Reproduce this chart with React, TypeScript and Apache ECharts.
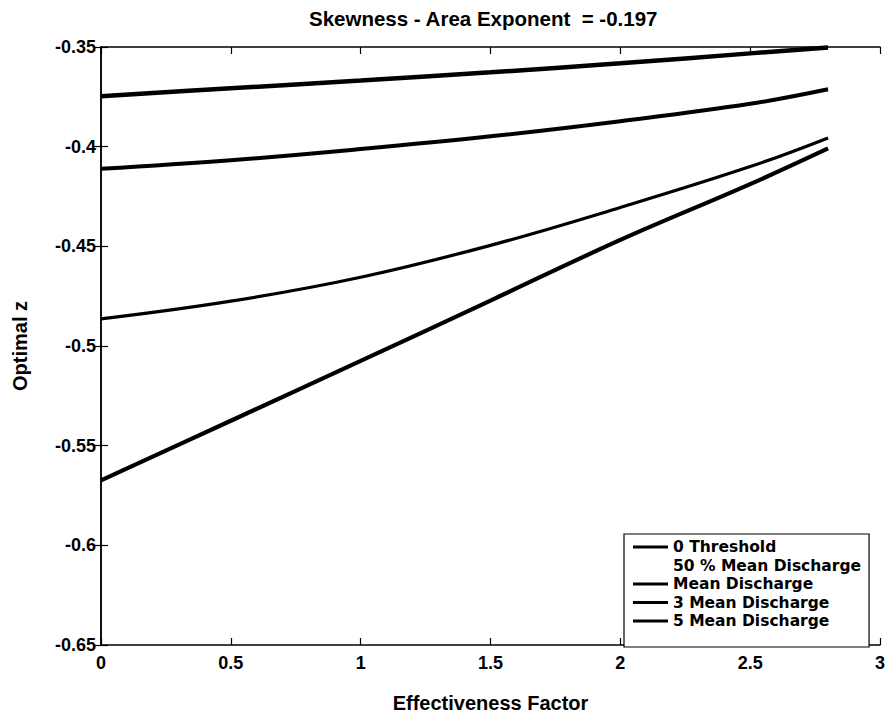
import React, { useEffect, useRef } from "react";
import * as echarts from "echarts";

const titleText = "Skewness - Area Exponent  = -0.197";
const xAxisName = "Effectiveness Factor";
const yAxisName = "Optimal z";

const xValues = [0, 0.5, 1, 1.5, 2, 2.5, 2.8];

const seriesNames = [
  "0 Threshold",
  "50 % Mean Discharge",
  "Mean Discharge",
  "3 Mean Discharge",
  "5 Mean Discharge",
];

const zeroThreshold = [-0.3747, -0.3707, -0.3668, -0.3627, -0.3582, -0.3532, -0.3502];
const halfMeanDischarge: number[] = [];
const meanDischarge = [-0.4111, -0.4068, -0.4012, -0.3948, -0.3872, -0.3785, -0.3712];
const threeMeanDischarge = [-0.4864, -0.4775, -0.4655, -0.4495, -0.4305, -0.41, -0.3956];
const fiveMeanDischarge = [-0.5674, -0.5375, -0.5075, -0.4772, -0.4468, -0.4188, -0.4009];

const FONT = "'Liberation Sans', Arial, Helvetica, sans-serif";
const LEGEND_FONT = "'DejaVu Sans', 'Liberation Sans', Arial, sans-serif";

function pairs(ys: number[]) {
  return ys.map((y, i) => [xValues[i], y]);
}

export default function App() {
  const ref = useRef<HTMLDivElement>(null);
  useEffect(() => {
    document.body.style.margin = "0";
    const chart = echarts.init(ref.current!, null, { renderer: "svg" });
    const axisLine = { show: true, lineStyle: { color: "#000", width: 1.5 } };
    const tick = { show: true, inside: true, length: 7, lineStyle: { color: "#000", width: 1.2 } };
    const lbl = { fontFamily: FONT, fontWeight: "bold" as const, fontSize: 18, color: "#000" };
    const lineSeries = (name: string, data: number[], width: number, color = "#000") => ({
      name,
      type: "line",
      data: pairs(data),
      smooth: 0.4,
      symbol: "none",
      lineStyle: { color, width },
      itemStyle: { color },
    });
    chart.setOption({
      animation: false,
      backgroundColor: "#fff",
      title: {
        text: titleText,
        left: 309,
        top: 8,
        padding: 0,
        textStyle: { fontFamily: FONT, fontWeight: "bold", fontSize: 20.5, color: "#000" },
      },
      grid: { left: 101, right: 3, top: 47, bottom: 64, containLabel: false },
      xAxis: [
        {
          type: "value",
          min: 0,
          max: 3,
          interval: 0.5,
          position: "bottom",
          name: xAxisName,
          nameLocation: "middle",
          nameGap: 48,
          nameTextStyle: { fontFamily: FONT, fontWeight: "bold", fontSize: 20, color: "#000" },
          axisLine,
          axisTick: tick,
          axisLabel: { ...lbl, margin: 9 },
          splitLine: { show: false },
        },
        {
          type: "value",
          min: 0,
          max: 3,
          interval: 0.5,
          position: "top",
          axisLine,
          axisTick: tick,
          axisLabel: { show: false },
          splitLine: { show: false },
        },
      ],
      yAxis: [
        {
          type: "value",
          min: -0.65,
          max: -0.35,
          interval: 0.05,
          position: "left",
          name: yAxisName,
          nameLocation: "middle",
          nameGap: 71,
          nameTextStyle: { fontFamily: FONT, fontWeight: "bold", fontSize: 20, color: "#000" },
          axisLine,
          axisTick: tick,
          axisLabel: {
            ...lbl,
            margin: 5,
            formatter: (v: number) => String(Number(v.toFixed(2))),
          },
          splitLine: { show: false },
        },
        {
          type: "value",
          min: -0.65,
          max: -0.35,
          interval: 0.05,
          position: "right",
          axisLine,
          axisTick: tick,
          axisLabel: { show: false },
          splitLine: { show: false },
        },
      ],
      legend: {
        orient: "vertical",
        left: 624,
        top: 534,
        padding: [5, 8, 18, 9],
        itemGap: 2.5,
        itemWidth: 35,
        itemHeight: 3,
        icon: "rect",
        symbolKeepAspect: false,
        backgroundColor: "#fff",
        borderColor: "#000",
        borderWidth: 1.2,
        borderRadius: 0,
        textStyle: { fontFamily: LEGEND_FONT, fontWeight: "bold", fontSize: 15.5, color: "#000" },
        data: seriesNames,
      },
      series: [
        lineSeries(seriesNames[0], zeroThreshold, 4.5),
        lineSeries(seriesNames[1], halfMeanDischarge, 3, "#ffffff"),
        lineSeries(seriesNames[2], meanDischarge, 4),
        lineSeries(seriesNames[3], threeMeanDischarge, 3.2),
        lineSeries(seriesNames[4], fiveMeanDischarge, 4.2),
      ],
    });
    return () => chart.dispose();
  }, []);
  return (
    <div
      ref={ref}
      style={{ position: "absolute", left: 0, top: 0, width: 888, height: 718 }}
    />
  );
}
